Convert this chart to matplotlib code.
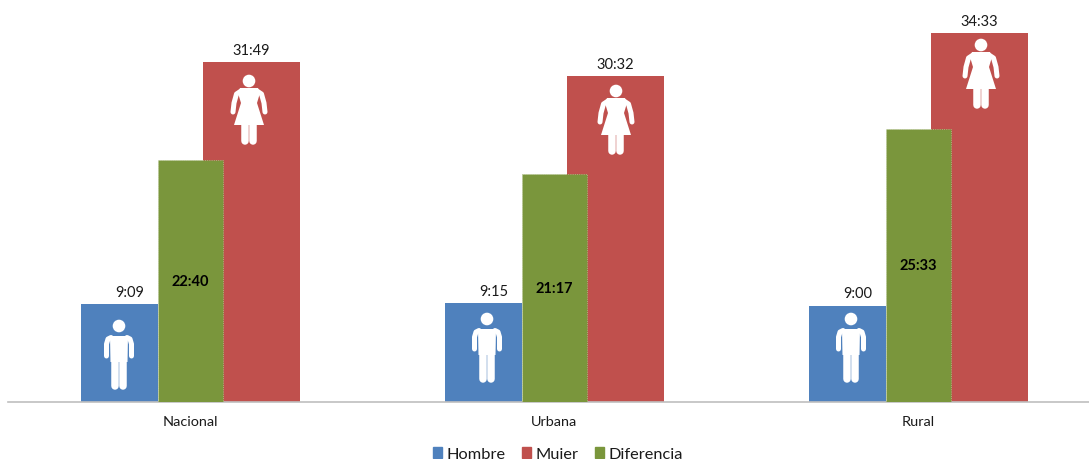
#Tiempo por sexo y área
import matplotlib
matplotlib.use("Agg")
import matplotlib.pyplot as plt
from matplotlib.patches import Patch, Polygon, Circle
from matplotlib.lines import Line2D
from matplotlib.transforms import Affine2D

#Datos
areas = ["Nacional", "Urbana", "Rural"]
hombre = ["9:09", "9:15", "9:00"]
mujer = ["31:49", "30:32", "34:33"]
diferencia = ["22:40", "21:17", "25:33"]

plt.rcParams['font.family'] = ['Lato', 'DejaVu Sans']

azul = '#4F81BD'
rojo = '#C0504D'
verde = '#7A963C'

#posición de los iconos en píxeles de la imagen (centro x, centro de la cabeza y)
icono_hombre = [(119, 327), (487, 320), (851, 320)]
icono_mujer = [(249, 82), (616, 92), (981, 46)]


def minutos(texto):
    h, m = texto.split(":")
    return int(h) + int(m) / 60


def linea(fig, xs, ys, ancho, t):
    fig.add_artist(Line2D(xs, ys, color='white', lw=ancho * 0.72, solid_capstyle='round',
                          solid_joinstyle='round', transform=t))


def dibuja_hombre(fig, cx, cy):
    t = Affine2D().scale(1, -1).translate(cx, 460 - cy)
    fig.add_artist(Circle((0, 0), 6.3, color='white', transform=t, lw=0))
    fig.add_artist(Polygon([(-9, 10), (9, 10), (8.5, 36), (-8.5, 36)], color='white', transform=t, lw=0))
    linea(fig, [-8, -11, -12.5, -12.5], [11.5, 13, 18, 30], 5, t)
    linea(fig, [8, 11, 12.5, 12.5], [11.5, 13, 18, 30], 5, t)
    linea(fig, [-4.2, -4.2], [32, 60], 7.5, t)
    linea(fig, [4.2, 4.2], [32, 60], 7.5, t)


def dibuja_mujer(fig, cx, cy):
    t = Affine2D().scale(1, -1).translate(cx, 460 - cy)
    fig.add_artist(Circle((0, 0), 6.3, color='white', transform=t, lw=0))
    vestido = [(-9, 7), (9, 7), (11, 12), (8, 22), (15, 44), (-15, 44), (-8, 22), (-11, 12)]
    fig.add_artist(Polygon(vestido, color='white', transform=t, lw=0))
    linea(fig, [-8, -12.5, -15, -16], [10, 13, 22, 31], 5, t)
    linea(fig, [8, 12.5, 15, 16], [10, 13, 22, 31], 5, t)
    linea(fig, [-4.2, -4.2], [43, 60], 7.5, t)
    linea(fig, [4.2, 4.2], [43, 60], 7.5, t)


fig = plt.figure(figsize=(10.89, 4.60), dpi=100)
ax = fig.add_axes([8 / 1089, 57 / 460, 1081 / 1089, 402 / 460])

y_h = [minutos(v) for v in hombre]
y_m = [minutos(v) for v in mujer]
y_d = [minutos(v) for v in diferencia]
x = range(len(areas))

#anchos en fracción de la separación entre grupos (364 px)
sep = 364
ax.bar([i - 109 / sep for i in x], y_h, width=77 / sep, align='edge', color=azul, zorder=2)
ax.bar([i + 13 / sep for i in x], y_m, width=97 / sep, align='edge', color=rojo, zorder=2)
ax.bar([i - 32 / sep for i in x], y_d, width=65 / sep, align='edge', color=verde, zorder=3,
       edgecolor='#B5C48F', linewidth=0.6, linestyle=':')

ax.set_xlim(-0.5, 2.47)
ax.set_ylim(0, 402 / 10.69)

for i in x:
    ax.annotate(hombre[i], (i - 60 / sep, y_h[i]), xytext=(0, 4), textcoords='offset points',
                ha='center', va='bottom', fontsize=10.5, color='#1a1a1a')
    ax.annotate(mujer[i], (i + 61 / sep, y_m[i]), xytext=(0, 3.2), textcoords='offset points',
                ha='center', va='bottom', fontsize=10.5, color='#1a1a1a')
    ax.text(i, y_d[i] / 2, diferencia[i], ha='center', va='center', fontsize=10.5,
            fontweight='bold', color='black', zorder=4)
    dibuja_hombre(fig, *icono_hombre[i])
    dibuja_mujer(fig, *icono_mujer[i])

ax.set_xticks(list(x))
ax.set_xticklabels(areas, fontsize=10.4, color='#1a1a1a')
ax.tick_params(axis='x', length=0, pad=9.5)
ax.set_yticks([])
for lado in ['top', 'left', 'right']:
    ax.spines[lado].set_visible(False)
ax.spines['bottom'].set_color('#BFBFBF')
ax.spines['bottom'].set_linewidth(1.2)
ax.patch.set_visible(False)

#leyenda
handles = [Patch(color=azul, label='Hombre'), Patch(color=rojo, label='Mujer'), Patch(color=verde, label='Diferencia')]
fig.legend(handles=handles, loc='center', bbox_to_anchor=(558 / 1089, 1 - 455 / 460), ncol=3, frameon=False,
           fontsize=11.8, handlelength=0.52, handleheight=0.62, handletextpad=0.27, columnspacing=1.05,
           borderpad=0, labelcolor='#1a1a1a')

fig.savefig('out.png', dpi=100)
